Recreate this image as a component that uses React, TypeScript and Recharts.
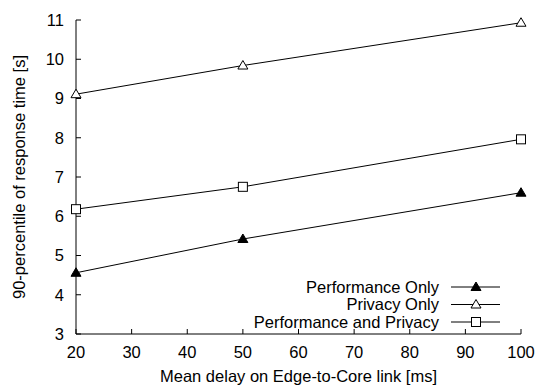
import React from 'react'
import { LineChart, Line, XAxis, YAxis } from 'recharts'

const delays = [20, 50, 100]
const perfOnly = [4.56, 5.42, 6.6]
const privOnly = [9.11, 9.84, 10.93]
const perfAndPriv = [6.18, 6.75, 7.96]
const xTicks = [20, 30, 40, 50, 60, 70, 80, 90, 100]
const yTicks = [3, 4, 5, 6, 7, 8, 9, 10, 11]

const data = delays.map((d, i) => ({
  x: d,
  perf: perfOnly[i],
  priv: privOnly[i],
  both: perfAndPriv[i],
}))

const FONT = '"Liberation Sans", Arial, Helvetica, sans-serif'
const FS = 16.5
const TICK = 5

const BottomTick = ({ x, y, payload }: any) => (
  <g>
    <line x1={x} y1={y} x2={x} y2={y - TICK} stroke="#000" />
    <text x={x} y={y + 18} dy="0.35em" textAnchor="middle" fontSize={FS} fontFamily={FONT} fill="#000">
      {payload.value}
    </text>
  </g>
)
const TopTick = ({ x, y }: any) => <line x1={x} y1={y} x2={x} y2={y + TICK} stroke="#000" />
const LeftTick = ({ x, y, payload }: any) => (
  <g>
    <line x1={x} y1={y} x2={x + TICK} y2={y} stroke="#000" />
    <text x={x - 12} y={y} dy="0.35em" textAnchor="end" fontSize={FS} fontFamily={FONT} fill="#000">
      {payload.value}
    </text>
  </g>
)
const RightTick = ({ x, y }: any) => <line x1={x} y1={y} x2={x - TICK} y2={y} stroke="#000" />

function marker(kind: string, cx: number, cy: number, key?: any) {
  if (kind === 'square') {
    return <rect key={key} x={cx - 4.5} y={cy - 4.5} width={9} height={9} fill="#fff" stroke="#000" />
  }
  const pts = `${cx},${cy - 5} ${cx - 5},${cy + 3.5} ${cx + 5},${cy + 3.5}`
  return <polygon key={key} points={pts} fill={kind === 'filled' ? '#000' : '#fff'} stroke="#000" />
}

const dotOf = (kind: string) => (p: any) => marker(kind, p.cx, p.cy, p.index)

const legendItems = [
  { label: 'Performance Only', kind: 'filled' },
  { label: 'Privacy Only', kind: 'open' },
  { label: 'Performance and Privacy', kind: 'square' },
]

export default function App() {
  return (
    <div style={{ position: 'absolute', left: 0, top: 0, width: 536, height: 385, background: '#fff' }}>
      <LineChart width={536} height={385} data={data} margin={{ top: 20, right: 15, left: 16, bottom: 11 }}>
        <XAxis
          xAxisId="b"
          dataKey="x"
          type="number"
          domain={[20, 100]}
          ticks={xTicks}
          height={40}
          tickSize={0}
          tickMargin={0}
          tickLine={false}
          axisLine={{ stroke: '#000' }}
          tick={<BottomTick />}
        />
        <XAxis
          xAxisId="t"
          orientation="top"
          dataKey="x"
          type="number"
          domain={[20, 100]}
          ticks={xTicks}
          height={0}
          tickSize={0}
          tickMargin={0}
          tickLine={false}
          axisLine={{ stroke: '#000' }}
          tick={<TopTick />}
        />
        <YAxis
          yAxisId="l"
          type="number"
          domain={[3, 11]}
          ticks={yTicks}
          width={60}
          tickSize={0}
          tickMargin={0}
          tickLine={false}
          axisLine={{ stroke: '#000' }}
          tick={<LeftTick />}
        />
        <YAxis
          yAxisId="r"
          orientation="right"
          type="number"
          domain={[3, 11]}
          ticks={yTicks}
          width={0}
          tickSize={0}
          tickMargin={0}
          tickLine={false}
          axisLine={{ stroke: '#000' }}
          tick={<RightTick />}
        />
        <Line xAxisId="b" yAxisId="l" dataKey="perf" type="linear" stroke="#000" strokeWidth={1} dot={dotOf('filled')} activeDot={false} isAnimationActive={false} />
        <Line xAxisId="b" yAxisId="l" dataKey="priv" type="linear" stroke="#000" strokeWidth={1} dot={dotOf('open')} activeDot={false} isAnimationActive={false} />
        <Line xAxisId="b" yAxisId="l" dataKey="both" type="linear" stroke="#000" strokeWidth={1} dot={dotOf('square')} activeDot={false} isAnimationActive={false} />
      </LineChart>
      <svg width={536} height={385} style={{ position: 'absolute', left: 0, top: 0, pointerEvents: 'none' }}>
        {legendItems.map((it, i) => {
          const y = 287 + i * 17.5
          return (
            <g key={it.label}>
              <text x={439} y={y} dy="0.35em" textAnchor="end" fontSize={FS} fontFamily={FONT} fill="#000">
                {it.label}
              </text>
              <line x1={451} y1={y} x2={500} y2={y} stroke="#000" />
              {marker(it.kind, 476, y)}
            </g>
          )
        })}
        <text x={298.5} y={376} dy="0.35em" textAnchor="middle" fontSize={FS} fontFamily={FONT} fill="#000">
          Mean delay on Edge-to-Core link [ms]
        </text>
        <text
          x={19}
          y={177}
          dy="0.35em"
          textAnchor="middle"
          fontSize={FS}
          fontFamily={FONT}
          fill="#000"
          transform="rotate(-90 19 177)"
        >
          90-percentile of response time [s]
        </text>
      </svg>
    </div>
  )
}
